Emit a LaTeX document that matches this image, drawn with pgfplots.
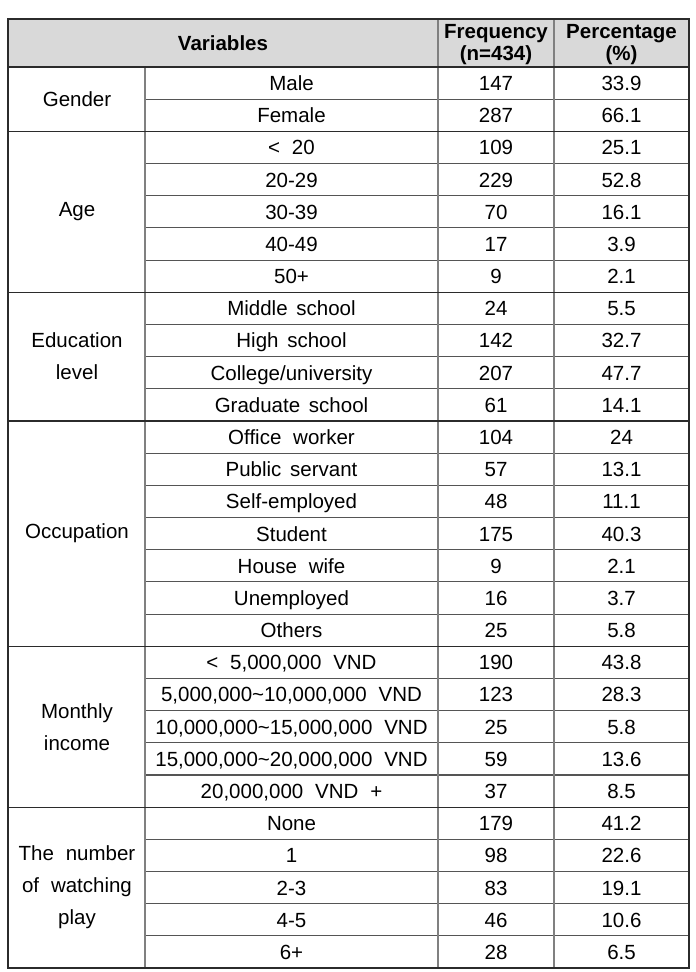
\documentclass[border=0pt]{standalone}
\usepackage{pgfplots}
\usepackage{pgfplotstable}
\pgfplotsset{compat=1.18}
\usepackage{fontspec}
\setmainfont{Liberation Sans}
\definecolor{hdr}{HTML}{D9D9D9}
\definecolor{dk}{HTML}{2B2B2B}
\definecolor{md}{HTML}{555555}
\definecolor{vl}{HTML}{808080}

\pgfplotstableread[col sep=semicolon]{
r;item;freq;pct
0;Male;147;33.9
1;Female;287;66.1
2;<\hspace{0.3em} 20;109;25.1
3;20-29;229;52.8
4;30-39;70;16.1
5;40-49;17;3.9
6;50+;9;2.1
7;Middle\hspace{0.15em} school;24;5.5
8;High\hspace{0.15em} school;142;32.7
9;College/university;207;47.7
10;Graduate\hspace{0.15em} school;61;14.1
11;Office\hspace{0.3em} worker;104;24
12;Public\hspace{0.15em} servant;57;13.1
13;Self-employed;48;11.1
14;Student;175;40.3
15;House\hspace{0.3em} wife;9;2.1
16;Unemployed;16;3.7
17;Others;25;5.8
18;<\hspace{0.3em} 5,000,000\hspace{0.3em} VND;190;43.8
19;5,000,000\textasciitilde 10,000,000\hspace{0.3em} VND;123;28.3
20;10,000,000\textasciitilde 15,000,000\hspace{0.3em} VND;25;5.8
21;15,000,000\textasciitilde 20,000,000\hspace{0.3em} VND;59;13.6
22;20,000,000\hspace{0.3em} VND\hspace{0.3em} +;37;8.5
23;None;179;41.2
24;1;98;22.6
25;2-3;83;19.1
26;4-5;46;10.6
27;6+;28;6.5
}\datatable

\pgfplotstableread[col sep=semicolon]{
r;grp
1;Gender
4.5;Age
9;Education\\level
14.5;Occupation
20.5;Monthly\\income
25.5;The\hspace{0.3em} number\\of\hspace{0.3em} watching\\play
}\grptable

\begin{document}
\begin{tikzpicture}
\begin{axis}[
  at={(0,0)}, anchor=south west,
  width=696bp, height=972bp, scale only axis,
  xmin=0, xmax=696, ymin=-2.082, ymax=28.123, y dir=reverse,
  hide axis, clip=false,
  unbounded coords=jump,
]
% header background
\addplot[draw=none, fill=hdr] coordinates {(8,-1.49) (689,-1.49) (689,0) (8,0)} -- cycle;
% inner row lines
\addplot[md, line width=1.1bp] coordinates {
 (145,1) (689,1) (nan,nan)
 (145,3) (689,3) (nan,nan) (145,4) (689,4) (nan,nan) (145,5) (689,5) (nan,nan) (145,6) (689,6) (nan,nan)
 (145,8) (689,8) (nan,nan) (145,9) (689,9) (nan,nan) (145,10) (689,10) (nan,nan)
 (145,12) (689,12) (nan,nan) (145,13) (689,13) (nan,nan) (145,14) (689,14) (nan,nan) (145,15) (689,15) (nan,nan) (145,16) (689,16) (nan,nan) (145,17) (689,17) (nan,nan)
 (145,19) (689,19) (nan,nan) (145,20) (689,20) (nan,nan) (145,21) (689,21) (nan,nan) (145,22) (689,22) (nan,nan)
 (145,24) (689,24) (nan,nan) (145,25) (689,25) (nan,nan) (145,26) (689,26) (nan,nan) (145,27) (689,27)
};
% vertical lines
\addplot[vl, line width=1.5bp] coordinates {
 (145,0) (145,28) (nan,nan) (438,-1.49) (438,28) (nan,nan) (554,-1.49) (554,28)
};
% group separators
\addplot[dk, line width=1.3bp] coordinates {
 (8,0) (689,0) (nan,nan) (8,2) (689,2) (nan,nan) (8,7) (689,7) (nan,nan) (8,11) (689,11) (nan,nan) (8,18) (689,18) (nan,nan) (8,23) (689,23)
};
% outer border
\addplot[dk, line width=1.5bp] coordinates {(8,-1.49) (689,-1.49) (689,28) (8,28)} -- cycle;

% cell text
\pgfplotsset{
 cell/.style={draw=none, mark=none, nodes near coords, point meta=explicit symbolic,
  nodes near coords align=center,
  every node near coord/.append style={anchor=center, inner sep=0pt, font=\fontsize{20.5bp}{32bp}\selectfont, text=black, align=center}},
 bcell/.style={cell, every node near coord/.append style={anchor=base, yshift=-7.4bp}}}
\addplot[bcell] table[x expr=291.5, y expr=\thisrow{r}+0.5, meta=item]{\datatable};
\addplot[bcell] table[x expr=496, y expr=\thisrow{r}+0.5, meta=freq]{\datatable};
\addplot[bcell] table[x expr=621.5, y expr=\thisrow{r}+0.5, meta=pct]{\datatable};
\addplot[cell] table[x expr=77, y=r, meta=grp]{\grptable};
% header text
\addplot[cell, every node near coord/.append style={font=\bfseries\fontsize{20.5bp}{22.5bp}\selectfont}] coordinates {(223,-0.745) [Variables] (496,-0.70) [Frequency\\(n=434)] (621.5,-0.70) [Percentage\\(\%)]};
\end{axis}
\pgfresetboundingbox
\path (0,0) rectangle (696bp,972bp);
\end{tikzpicture}
\end{document}
